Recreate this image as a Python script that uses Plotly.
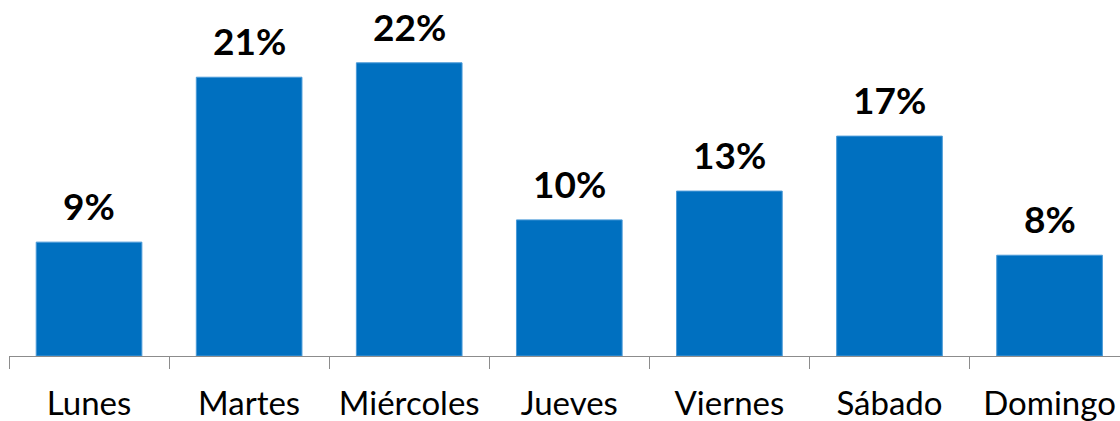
import plotly.graph_objects as go

dias = ["Lunes", "Martes", "Miércoles", "Jueves", "Viernes", "Sábado", "Domingo"]
porcentaje = [8.7, 21.3, 22.4, 10.4, 12.6, 16.8, 7.7]
etiquetas = ["9%", "21%", "22%", "10%", "13%", "17%", "8%"]

azul = "#0070C0"

fig = go.Figure()
fig.add_trace(go.Bar(
    x=dias, y=porcentaje,
    marker=dict(color=azul, line=dict(color="#4a9ad8", width=1)),
    width=0.66,
    hoverinfo="skip",
))

# etiquetas de datos encima de cada barra
for d, v, t in zip(dias, porcentaje, etiquetas):
    fig.add_annotation(
        x=d, y=v, text=f"<b>{t}</b>", showarrow=False,
        yanchor="bottom", yshift=12,
        font=dict(family="Lato", size=37, color="black"),
    )

fig.update_layout(
    width=1120, height=421,
    margin=dict(l=9, r=0, t=0, b=65, autoexpand=False),
    paper_bgcolor="white", plot_bgcolor="white",
    showlegend=False,
    font=dict(family="Lato", color="black"),
)
fig.update_xaxes(
    range=[-0.5, 6.44], automargin=False,
    showline=True, linecolor="#8c8c8c", linewidth=1,
    ticks="outside", tickson="boundaries", ticklen=12, tickcolor="#8c8c8c",
    tickfont=dict(family="Lato", size=33, color="black"),
    ticklabelstandoff=18,
    showgrid=False, zeroline=False,
)
fig.update_yaxes(
    range=[0, 27.2], visible=False, showgrid=False, zeroline=False,
    automargin=False,
)

# sin margen del body para que la figura ocupe toda la ventana
fig.write_html("out.html", config={"displayModeBar": False},
               post_script="document.body.style.margin='0';")
